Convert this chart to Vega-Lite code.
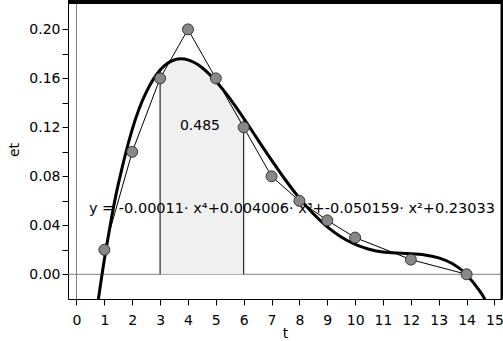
{
  "$schema": "https://vega.github.io/schema/vega-lite/v6.json",
  "width": 434,
  "height": 299,
  "autosize": "none",
  "padding": {"left": 68, "top": 0, "right": 1, "bottom": 42},
  "background": "white",
  "config": {"view": {"stroke": null}, "font": "DejaVu Sans", "axis": {"labelOverlap": false}},
  "datasets": {
    "points": [
      {"t": 1, "et": 0.02}, {"t": 2, "et": 0.1}, {"t": 3, "et": 0.16}, {"t": 4, "et": 0.2},
      {"t": 5, "et": 0.16}, {"t": 6, "et": 0.12}, {"t": 7, "et": 0.08}, {"t": 8, "et": 0.06},
      {"t": 9, "et": 0.044}, {"t": 10, "et": 0.03}, {"t": 12, "et": 0.012}, {"t": 14, "et": 0.0}
    ],
    "curve": [
      {"t": 0.75, "et": -0.0258}, {"t": 1, "et": 0.0121}, {"t": 1.25, "et": 0.0451}, {"t": 1.5, "et": 0.0736},
      {"t": 2, "et": 0.1183}, {"t": 2.5, "et": 0.1486}, {"t": 3, "et": 0.1668}, {"t": 3.5, "et": 0.175},
      {"t": 4, "et": 0.1751}, {"t": 4.5, "et": 0.1689}, {"t": 5, "et": 0.1578}, {"t": 5.5, "et": 0.1436},
      {"t": 6, "et": 0.1274}, {"t": 6.5, "et": 0.1102}, {"t": 7, "et": 0.0932}, {"t": 7.5, "et": 0.077},
      {"t": 8, "et": 0.0622}, {"t": 8.5, "et": 0.0494}, {"t": 9, "et": 0.0387}, {"t": 9.5, "et": 0.0304},
      {"t": 10, "et": 0.0244}, {"t": 10.5, "et": 0.0205}, {"t": 11, "et": 0.0182}, {"t": 11.5, "et": 0.0173},
      {"t": 12, "et": 0.0167}, {"t": 12.5, "et": 0.0158}, {"t": 13, "et": 0.0134}, {"t": 13.5, "et": 0.0086},
      {"t": 14, "et": -0.0003}, {"t": 14.5, "et": -0.0146}, {"t": 14.75, "et": -0.0244}, {"t": 15, "et": -0.0362}
    ],
    "bounds": [{"t": 3, "et": 0.1668}, {"t": 6, "et": 0.1274}],
    "equation": [{"t": 0.445, "et": 0.0498, "label": "y = -0.00011· x⁴+0.004006· x³+-0.050159· x²+0.23033"}],
    "arealabel": [{"t": 4.43, "et": 0.121, "label": "0.485"}],
    "zeroT": [{"t": 0}],
    "zeroEt": [{"et": 0}],
    "frameTop": [{"et": 0.22399}],
    "frameRight": [{"t": 15.271}]
  },
  "layer": [
    {
      "data": {"name": "points"},
      "mark": {"type": "rule", "color": "#808080", "strokeWidth": 1},
      "encoding": {
        "x": {
          "field": "t", "type": "quantitative",
          "scale": {"domain": [-0.305, 15.271], "nice": false, "zero": false},
          "axis": {
            "title": "t", "tickCount": 16, "values": [0,1,2,3,4,5,6,7,8,9,10,11,12,13,14,15],
            "format": "d",
            "grid": false, "domainColor": "black", "tickColor": "black", "tickSize": 6,
            "labelFont": "DejaVu Sans", "labelFontSize": 14, "labelColor": "black", "labelPadding": 8,
            "labelFlush": false, "labelOverlap": false, "labelBound": false, "labelSeparation": 0,
            "titleFont": "DejaVu Sans", "titleFontSize": 14, "titleFontWeight": "normal", "titleColor": "black",
            "titleBaseline": "alphabetic", "titleY": 38.5
          }
        },
        "y": {
          "field": "et", "type": "quantitative",
          "scale": {"domain": [-0.02017, 0.22399], "nice": false, "zero": false},
          "axis": {
            "title": "et", "tickCount": 12, "values": [0,0.02,0.04,0.06,0.08,0.1,0.12,0.14,0.16,0.18,0.2],
            "labelExpr": "(round(datum.value*100) % 4 == 0) ? format(datum.value, '.2f') : ''",
            "grid": false, "domainColor": "black", "tickColor": "black", "tickSize": 6,
            "labelFont": "DejaVu Sans", "labelFontSize": 14, "labelColor": "black", "labelPadding": 2,
            "labelOverlap": false, "labelBound": false,
            "titleFont": "DejaVu Sans", "titleFontSize": 14, "titleFontWeight": "normal", "titleColor": "black",
            "titleX": -54, "titleBaseline": "middle"
          }
        },
        "opacity": {"value": 0}
      }
    },
    {
      "data": {"name": "zeroEt"},
      "mark": {"type": "rule", "color": "#808080", "strokeWidth": 1},
      "encoding": {"y": {"field": "et", "type": "quantitative"}}
    },
    {
      "data": {"name": "zeroT"},
      "mark": {"type": "rule", "color": "#808080", "strokeWidth": 1},
      "encoding": {"x": {"field": "t", "type": "quantitative"}}
    },
    {
      "data": {"name": "curve"},
      "transform": [{"filter": "datum.t >= 3 && datum.t <= 6"}],
      "mark": {"type": "area", "interpolate": "natural", "color": "#f0f0f0"},
      "encoding": {
        "x": {"field": "t", "type": "quantitative"},
        "y": {"field": "et", "type": "quantitative"},
        "y2": {"datum": 0}
      }
    },
    {
      "data": {"name": "bounds"},
      "mark": {"type": "rule", "color": "black", "strokeWidth": 1},
      "encoding": {
        "x": {"field": "t", "type": "quantitative"},
        "y": {"field": "et", "type": "quantitative"},
        "y2": {"datum": 0}
      }
    },
    {
      "data": {"name": "equation"},
      "mark": {"type": "text", "align": "left", "baseline": "alphabetic", "fontSize": 14.5, "font": "DejaVu Sans", "color": "black"},
      "encoding": {
        "x": {"field": "t", "type": "quantitative"},
        "y": {"field": "et", "type": "quantitative"},
        "text": {"field": "label"}
      }
    },
    {
      "data": {"name": "arealabel"},
      "mark": {"type": "text", "align": "center", "baseline": "middle", "fontSize": 14, "font": "DejaVu Sans", "color": "black"},
      "encoding": {
        "x": {"field": "t", "type": "quantitative"},
        "y": {"field": "et", "type": "quantitative"},
        "text": {"field": "label"}
      }
    },
    {
      "data": {"name": "points"},
      "mark": {"type": "line", "color": "black", "strokeWidth": 1},
      "encoding": {
        "x": {"field": "t", "type": "quantitative"},
        "y": {"field": "et", "type": "quantitative"}
      }
    },
    {
      "data": {"name": "curve"},
      "mark": {"type": "line", "color": "black", "strokeWidth": 3, "interpolate": "natural", "clip": true},
      "encoding": {
        "x": {"field": "t", "type": "quantitative"},
        "y": {"field": "et", "type": "quantitative"}
      }
    },
    {
      "data": {"name": "points"},
      "mark": {"type": "circle", "size": 120, "color": "#888888", "stroke": "#333333", "strokeWidth": 1, "opacity": 1},
      "encoding": {
        "x": {"field": "t", "type": "quantitative"},
        "y": {"field": "et", "type": "quantitative"}
      }
    },
    {
      "data": {"name": "frameTop"},
      "mark": {"type": "rule", "color": "black", "strokeWidth": 8},
      "encoding": {"y": {"field": "et", "type": "quantitative"}}
    },
    {
      "data": {"name": "frameRight"},
      "mark": {"type": "rule", "color": "black", "strokeWidth": 3},
      "encoding": {"x": {"field": "t", "type": "quantitative"}}
    }
  ]
}
